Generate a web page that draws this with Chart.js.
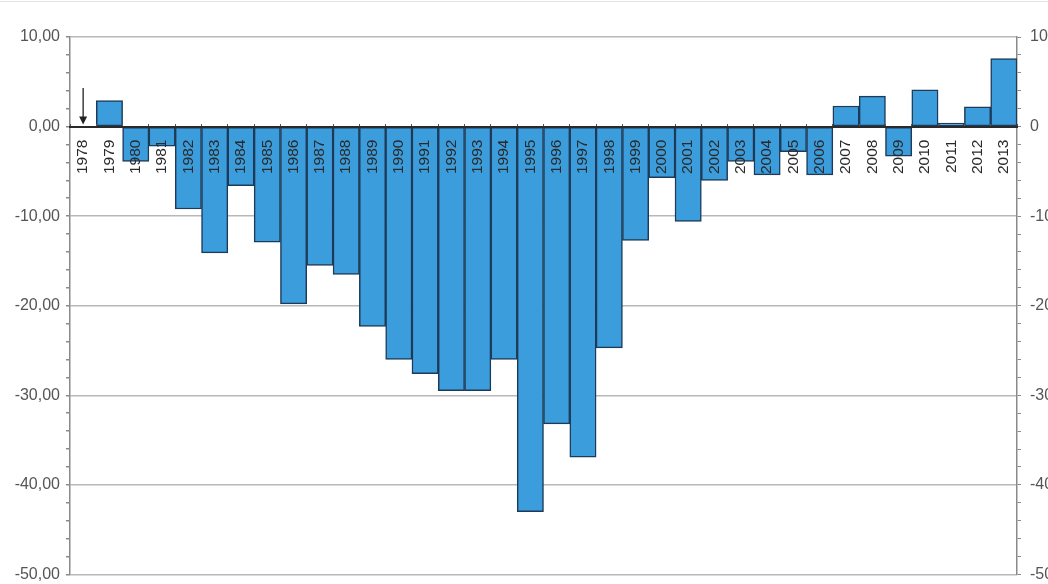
<!DOCTYPE html>
<html>
<head>
<meta charset="utf-8">
<script src="https://cdn.jsdelivr.net/npm/chart.js@4"></script>
<style>
  html, body { margin: 0; padding: 0; background: #fff; overflow: hidden; }
  #wrap { position: relative; width: 1048px; height: 584px; overflow: hidden; }
  #topline { position: absolute; left: 0; top: 1px; width: 1048px; height: 1px; background: #e4e4e4; }
  canvas { position: absolute; left: 0; top: 0; }
</style>
</head>
<body>
<div id="wrap">
  <canvas id="c" width="1080" height="593"></canvas>
  <div id="topline"></div>
</div>
<script>
// Yearly values, 1978 - 2013
const years = ['1978','1979','1980','1981','1982','1983','1984','1985','1986','1987','1988','1989',
  '1990','1991','1992','1993','1994','1995','1996','1997','1998','1999','2000','2001',
  '2002','2003','2004','2005','2006','2007','2008','2009','2010','2011','2012','2013'];
const values = [0, 2.9, -3.9, -2.2, -9.2, -14.1, -6.6, -12.9, -19.8, -15.5, -16.5, -22.3,
  -26.0, -27.6, -29.5, -29.5, -26.0, -43.0, -33.2, -36.9, -24.7, -12.7, -5.7, -10.6,
  -6.0, -3.9, -5.4, -2.8, -5.4, 2.3, 3.4, -3.3, 4.1, 0.4, 2.2, 7.6];

// Value axis range and tick steps
const axisMin = -50;
const axisMax = 10;
const majorStep = 10;
const minorStep = 2;

// Marker arrow pointing at the base year
const arrowYear = '1978';
const arrowFrom = 4.3;
const arrowTo = 0;

const FONT = "'Liberation Sans', Arial, sans-serif";
const GRID = '#b8b8b8';
const AXIS = '#8a8a8a';

const isMajor = v => Math.abs(v % majorStep) < 1e-9;

const arrowPlugin = {
  id: 'baseArrow',
  afterDatasetsDraw(chart) {
    const x = chart.scales.x.getPixelForValue(years.indexOf(arrowYear));
    const y1 = chart.scales.y.getPixelForValue(arrowFrom);
    const y2 = chart.scales.y.getPixelForValue(arrowTo) - 2;
    const ctx = chart.ctx;
    ctx.save();
    ctx.strokeStyle = '#222';
    ctx.fillStyle = '#222';
    ctx.lineWidth = 1.3;
    ctx.beginPath();
    ctx.moveTo(x, y1);
    ctx.lineTo(x, y2 - 6);
    ctx.stroke();
    ctx.beginPath();
    ctx.moveTo(x - 4, y2 - 8);
    ctx.lineTo(x + 4, y2 - 8);
    ctx.lineTo(x, y2);
    ctx.closePath();
    ctx.fill();
    ctx.restore();
  }
};

new Chart(document.getElementById('c'), {
  type: 'bar',
  data: {
    labels: years,
    datasets: [{
      data: values,
      backgroundColor: '#3c9ddd',
      borderColor: '#1d3b58',
      borderWidth: 1.5,
      borderSkipped: false,
      barPercentage: 1,
      categoryPercentage: 1
    }]
  },
  options: {
    responsive: false,
    animation: false,
    devicePixelRatio: 1,
    layout: { padding: { left: 10, right: 0, top: 37, bottom: 1 } },
    plugins: { legend: { display: false }, tooltip: { enabled: false } },
    scales: {
      x: {
        type: 'category',
        position: { y: 0 },
        grid: { display: true, drawOnChartArea: false, drawTicks: true, tickLength: -4, tickColor: '#555', z: 1 },
        border: { display: true, color: '#2a2a2a', width: 2, z: 1 },
        ticks: {
          autoSkip: false, minRotation: 90, maxRotation: 90, padding: 17,
          color: '#2a2a2a', font: { family: FONT, size: 15.5 }, z: 1
        }
      },
      y: {
        position: 'left',
        min: axisMin, max: axisMax,
        afterFit: s => { s.width = 60; },
        grid: {
          color: c => isMajor(c.tick.value) ? GRID : 'rgba(0,0,0,0)',
          lineWidth: 1.5,
          tickColor: AXIS, tickLength: 4
        },
        border: { display: true, color: AXIS, width: 1.5 },
        ticks: {
          stepSize: minorStep, autoSkip: false, padding: 6, color: '#555',
          font: { family: FONT, size: 16 },
          callback: v => isMajor(v) ? v.toFixed(2).replace('.', ',') : ''
        }
      },
      y2: {
        position: 'right',
        min: axisMin, max: axisMax,
        afterFit: s => { s.width = 63; },
        grid: { drawOnChartArea: false, tickColor: AXIS, tickLength: 4 },
        border: { display: true, color: AXIS, width: 1.5 },
        ticks: {
          stepSize: minorStep, autoSkip: false, padding: 9, color: '#555',
          font: { family: FONT, size: 16 },
          callback: v => isMajor(v) ? String(v) : ''
        }
      }
    }
  },
  plugins: [arrowPlugin]
});
</script>
</body>
</html>
